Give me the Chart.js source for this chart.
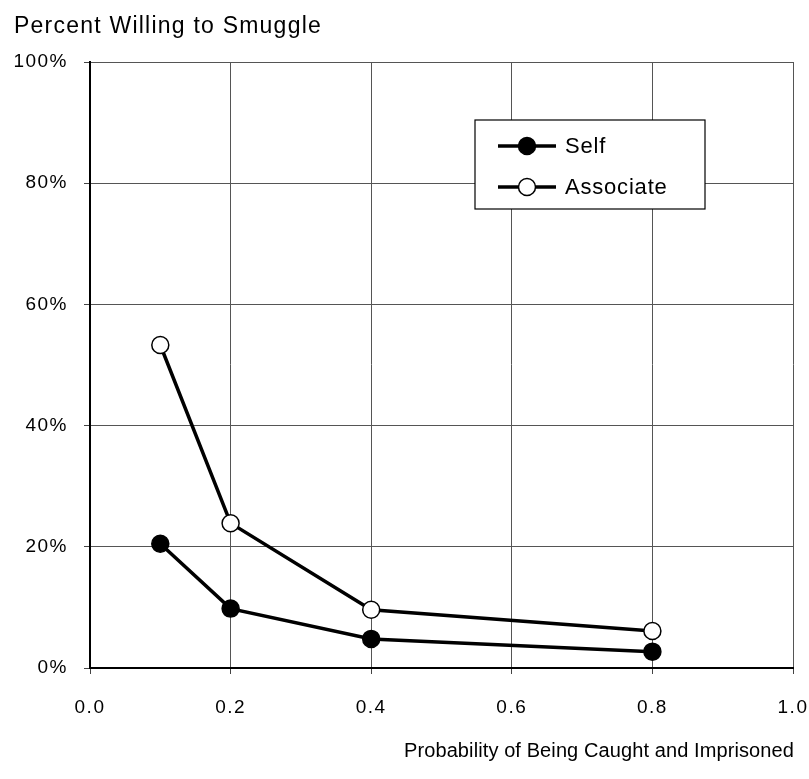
<!DOCTYPE html>
<html>
<head>
<meta charset="utf-8">
<script src="https://cdn.jsdelivr.net/npm/chart.js@4.4.0/dist/chart.umd.min.js"></script>
<style>
  html, body { margin: 0; padding: 0; background: #fff; }
  #wrap { width: 809px; height: 779px; }
</style>
</head>
<body>
<div id="wrap"><canvas id="myChart" width="809" height="779"></canvas></div>
<script>
// values
const probabilities = [0.1, 0.2, 0.4, 0.8];
const selfPct = [20.5, 9.8, 4.8, 2.7];
const associatePct = [53.3, 23.9, 9.6, 6.1];
const seriesNames = ['Self', 'Associate'];
const xTitle = 'Probability of Being Caught and Imprisoned';
const yTitle = 'Percent Willing to Smuggle';

const FONT = '"Liberation Sans", Arial, Helvetica, sans-serif';

const toPoints = (vals) => probabilities.map((p, i) => ({ x: p, y: vals[i] }));

// text spread a little wider, like the scanned original
const spacing = {
  id: 'spacing',
  beforeDraw(chart) { chart.ctx.letterSpacing = '1.5px'; }
};

// draws the two titles and the boxed legend
const extras = {
  id: 'extras',
  afterDraw(chart) {
    const ctx = chart.ctx;
    ctx.save();

    const fitText = (txt, size, width) => {
      ctx.font = size + 'px ' + FONT;
      ctx.letterSpacing = '0px';
      const w = ctx.measureText(txt).width;
      const ls = Math.max(0, (width - w) / txt.length);
      ctx.letterSpacing = ls + 'px';
    };

    ctx.fillStyle = '#000';
    ctx.textBaseline = 'middle';
    ctx.textAlign = 'left';
    fitText(yTitle, 23, 308);
    ctx.fillText(yTitle, 14, 27);

    fitText(xTitle, 20, 390);
    ctx.textAlign = 'right';
    ctx.fillText(xTitle, 794, 751);

    // legend box
    const bx = 475, by = 120, bw = 230, bh = 89;
    ctx.letterSpacing = '0px';
    ctx.fillStyle = '#fff';
    ctx.fillRect(bx, by, bw, bh);
    ctx.strokeStyle = '#000';
    ctx.lineWidth = 1.2;
    ctx.strokeRect(bx, by, bw, bh);

    chart.data.datasets.forEach((ds, i) => {
      const y = by + 26 + i * 41;
      ctx.strokeStyle = ds.borderColor;
      ctx.lineWidth = ds.borderWidth;
      ctx.beginPath();
      ctx.moveTo(bx + 23, y);
      ctx.lineTo(bx + 81, y);
      ctx.stroke();
      ctx.beginPath();
      ctx.arc(bx + 52, y, ds.pointRadius, 0, Math.PI * 2);
      ctx.fillStyle = ds.pointBackgroundColor;
      ctx.fill();
      ctx.lineWidth = ds.pointBorderWidth;
      ctx.strokeStyle = ds.pointBorderColor;
      ctx.stroke();
      ctx.fillStyle = '#000';
      ctx.textAlign = 'left';
      ctx.textBaseline = 'middle';
      ctx.font = '22px ' + FONT;
      ctx.letterSpacing = '0.8px';
      ctx.fillText(ds.label, bx + 90, y + 1);
    });

    ctx.restore();
  }
};

const ctx = document.getElementById('myChart').getContext('2d');
new Chart(ctx, {
  type: 'line',
  data: {
    datasets: [
      {
        label: seriesNames[0],
        data: toPoints(selfPct),
        borderColor: '#000',
        borderWidth: 3.5,
        pointRadius: 8.5,
        pointBackgroundColor: '#000',
        pointBorderColor: '#000',
        pointBorderWidth: 1.5,
        tension: 0
      },
      {
        label: seriesNames[1],
        data: toPoints(associatePct),
        borderColor: '#000',
        borderWidth: 3.5,
        pointRadius: 8.5,
        pointBackgroundColor: '#fff',
        pointBorderColor: '#000',
        pointBorderWidth: 1.5,
        tension: 0
      }
    ]
  },
  options: {
    responsive: false,
    animation: false,
    events: [],
    layout: { padding: { top: 62, right: 16, left: 0, bottom: 0 } },
    plugins: {
      legend: { display: false },
      tooltip: { enabled: false }
    },
    scales: {
      x: {
        type: 'linear',
        min: 0,
        max: 1,
        afterFit: (scale) => {
          scale.height = 111;
          scale.paddingRight = 0;
          scale.paddingLeft = 0;
        },
        ticks: {
          stepSize: 0.2,
          color: '#000',
          padding: 22,
          maxRotation: 0,
          font: { family: FONT, size: 19 },
          callback: (v) => Number(v).toFixed(1)
        },
        grid: { color: '#555', lineWidth: 1, tickLength: 6, tickColor: '#444' },
        border: { color: '#000', width: 2 }
      },
      y: {
        min: 0,
        max: 100,
        afterFit: (scale) => {
          scale.width = 90;
          scale.paddingTop = 0;
          scale.paddingBottom = 0;
        },
        ticks: {
          stepSize: 20,
          color: '#000',
          padding: 16,
          font: { family: FONT, size: 19 },
          callback: (v) => v + '%'
        },
        grid: { color: '#555', lineWidth: 1, tickLength: 6, tickColor: '#444' },
        border: { color: '#000', width: 2 }
      }
    }
  },
  plugins: [spacing, extras]
});
</script>
</body>
</html>
